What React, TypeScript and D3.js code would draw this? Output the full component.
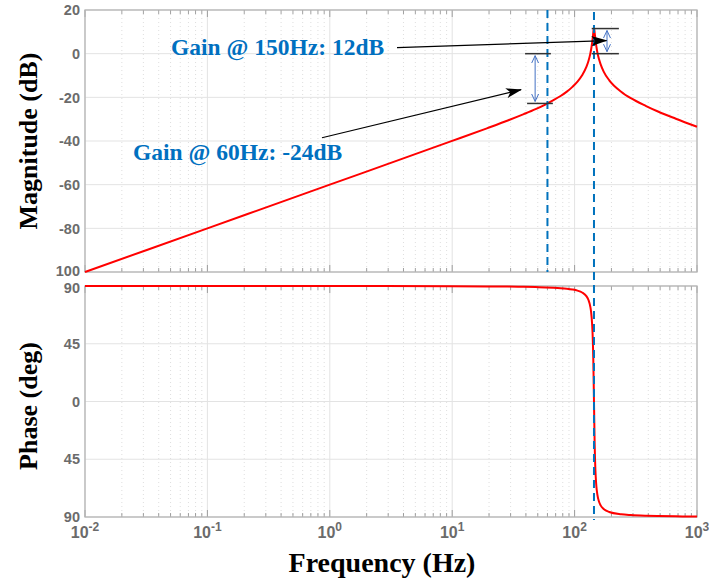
import React from 'react';
import * as d3 from 'd3';

// ---- data ----
const freqHz = [0.01, 0.1, 1, 9.6, 19.2, 28.8, 38.4, 48, 57.6, 67.2, 76.8, 86.4, 96,
  105.6, 115.2, 124.8, 129.6, 134.4, 136.3, 139.2, 140.2, 142.1, 143, 144, 145, 145.9,
  147.8, 148.8, 150.7, 153.6, 158.4, 163.2, 172.8, 192, 240, 288, 384, 480, 672, 1000];
const magDb = [-100, -80, -60, -40.3, -34.2, -30.5, -27.7, -25.4, -23.3, -21.3, -19.4,
  -17.4, -15.2, -12.8, -9.9, -6.1, -3.5, 0.0, 1.8, 5.2, 6.6, 9.5, 11.0, 11.5, 11.0, 9.5,
  6.8, 5.4, 3.2, 0.5, -2.6, -4.9, -8.2, -12.2, -17.4, -20.4, -24.0, -26.5, -29.8, -33.5];
const phaseDeg = [90, 90, 90, 89.85, 89.69, 89.52, 89.34, 89.14, 88.91, 88.63, 88.29,
  87.85, 87.25, 86.37, 84.92, 82.07, 79.27, 73.85, 69.96, 59.5, 53.5, 33.9, 18.5, 0,
  -18.4, -33.5, -52.8, -58.6, -66.3, -72.8, -78.17, -80.94, -83.77, -86.08, -87.85,
  -88.47, -89.0, -89.24, -89.49, -89.65];

const xDecades = [-2, -1, 0, 1, 2, 3];
const magTicks = [20, 0, -20, -40, -60, -80, -100];
const magTickLabels = ['20', '0', '-20', '-40', '-60', '-80', '100'];
const phaseTicks = [90, 45, 0, -45, -90];
const phaseTickLabels = ['90', '45', '0', '45', '90'];

const markerFreqs = [60, 144];
const annoText150 = 'Gain @ 150Hz: 12dB';
const annoText60 = 'Gain @ 60Hz: -24dB';

export default function App() {
  const W = 709, H = 581;
  const x = d3.scaleLog().domain([0.01, 1000]).range([85, 697]);
  const yM = d3.scaleLinear().domain([-100, 20]).range([272, 10]);
  const yP = d3.scaleLinear().domain([-90, 90]).range([517, 286]);

  const pts = freqHz.map((f, i) => ({ f, m: magDb[i], p: phaseDeg[i] }));
  const magLine = d3.line<any>().x(d => x(d.f)).y(d => yM(d.m)).curve(d3.curveMonotoneX)(pts) || '';
  const phLine = d3.line<any>().x(d => x(d.f)).y(d => yP(d.p)).curve(d3.curveMonotoneX)(pts) || '';

  const minors: number[] = [];
  for (let d = -2; d < 3; d++) for (let k = 2; k <= 9; k++) minors.push(k * Math.pow(10, d));

  const tickFont = "'Liberation Sans', Arial, Helvetica, sans-serif";
  const serif = "'Liberation Serif', 'Times New Roman', serif";
  const tickCol = '#6b6b6b';
  const gridMajor = '#e3e3e3';
  const gridMinor = '#d6d6d6';
  const boxCol = '#b5b5b5';

  const panel = (y0: number, y1: number, yTicks: number[], yScale: any, labels: string[], key: string,
    labelNudge: (i: number) => number) => (
    <g key={key}>
      {minors.map((f, i) => (
        <line key={'mn' + i} x1={x(f)} x2={x(f)} y1={y0} y2={y1} stroke={gridMinor} strokeWidth={0.8} strokeDasharray="1,3" />
      ))}
      {xDecades.map((d, i) => (
        <line key={'mj' + i} x1={x(Math.pow(10, d))} x2={x(Math.pow(10, d))} y1={y0} y2={y1} stroke={gridMajor} strokeWidth={1} />
      ))}
      {yTicks.map((t, i) => (
        <line key={'hy' + i} x1={85} x2={697} y1={yScale(t)} y2={yScale(t)} stroke={gridMajor} strokeWidth={1} />
      ))}
      {minors.map((f, i) => (
        <g key={'mt' + i}>
          <line x1={x(f)} x2={x(f)} y1={y1} y2={y1 - 4} stroke="#8a8a8a" strokeWidth={0.8} />
          <line x1={x(f)} x2={x(f)} y1={y0} y2={y0 + 4} stroke="#8a8a8a" strokeWidth={0.8} />
        </g>
      ))}
      {xDecades.map((d, i) => (
        <g key={'Mt' + i}>
          <line x1={x(Math.pow(10, d))} x2={x(Math.pow(10, d))} y1={y1} y2={y1 - 7} stroke="#8a8a8a" strokeWidth={0.8} />
          <line x1={x(Math.pow(10, d))} x2={x(Math.pow(10, d))} y1={y0} y2={y0 + 7} stroke="#8a8a8a" strokeWidth={0.8} />
        </g>
      ))}
      {yTicks.map((t, i) => (
        <text key={'yl' + i} x={80} y={yScale(t) + labelNudge(i)} dy="0.36em" textAnchor="end" fontFamily={tickFont}
          fontWeight="bold" fontSize={14.5} fill={tickCol}>{labels[i]}</text>
      ))}
      <rect x={85} y={y0} width={612} height={y1 - y0} fill="none" stroke={boxCol} strokeWidth={1.3} />
    </g>
  );

  // annotation geometry (data coordinates)
  const br60 = { f1: 39.4, f2: 64, fa: 47.6, top: 0, bot: -22.8 };
  const br150 = { f1: 138, f2: 230, fa: 184, top: 11.5, bot: 0 };
  const arr150 = { fs: 3.54, ms: 2.75, fe: 182, me: 6.0 };
  const arr60 = { fs: 0.863, ms: -38.5, fe: 36.5, me: -16.5 };

  return (
    <svg width={W} height={H} style={{ position: 'absolute', left: 0, top: 0, background: '#fff' }}>
      <defs>
        <marker id="blk" viewBox="0 0 16 10" refX="15" refY="5" markerWidth="16" markerHeight="10"
          markerUnits="userSpaceOnUse" orient="auto">
          <path d="M0,0 L16,5 L0,10 L4,5 Z" fill="#000" />
        </marker>
        <marker id="bluA" viewBox="0 0 8 8" refX="7.5" refY="4" markerWidth="8" markerHeight="8"
          markerUnits="userSpaceOnUse" orient="auto-start-reverse">
          <path d="M0,0.5 L7.5,4 L0,7.5" fill="none" stroke="#4472C4" strokeWidth={1} />
        </marker>
      </defs>
      <rect width={W} height={H} fill="#fff" />
      {panel(10, 272, magTicks, yM, magTickLabels, 'mag', i => (i === magTicks.length - 1 ? -1 : 0))}
      {panel(286, 517, phaseTicks, yP, phaseTickLabels, 'ph', i => (i === 0 ? 2 : 0))}

      {/* curves */}
      <path d={magLine} fill="none" stroke="#ff0000" strokeWidth={2} />
      <path d={phLine} fill="none" stroke="#ff0000" strokeWidth={2} />

      {/* dashed frequency markers */}
      <line x1={x(markerFreqs[0])} x2={x(markerFreqs[0])} y1={10} y2={272} stroke="#0072BD" strokeWidth={2} strokeDasharray="8,5" />
      <line x1={x(markerFreqs[1])} x2={x(markerFreqs[1])} y1={12} y2={520} stroke="#0072BD" strokeWidth={2} strokeDasharray="8,5" />

      {/* brackets */}
      <line x1={x(br60.f1)} x2={x(br60.f2)} y1={yM(br60.top)} y2={yM(br60.top)} stroke="#333" strokeWidth={1.5} />
      <line x1={x(br60.f1) + 2} x2={x(br60.f2) + 2} y1={yM(br60.bot)} y2={yM(br60.bot)} stroke="#333" strokeWidth={1.5} />
      <line x1={x(br60.fa)} x2={x(br60.fa)} y1={yM(br60.top) + 2} y2={yM(br60.bot) - 2} stroke="#4472C4" strokeWidth={1}
        markerStart="url(#bluA)" markerEnd="url(#bluA)" />
      <line x1={x(br150.f1)} x2={x(br150.f2)} y1={yM(br150.top)} y2={yM(br150.top)} stroke="#333" strokeWidth={1.5} />
      <line x1={x(br150.f1)} x2={x(br150.f2)} y1={yM(br150.bot)} y2={yM(br150.bot)} stroke="#333" strokeWidth={1.5} />
      <line x1={x(br150.fa)} x2={x(br150.fa)} y1={yM(br150.top) + 2} y2={yM(br150.bot) - 2} stroke="#4472C4" strokeWidth={1}
        markerStart="url(#bluA)" markerEnd="url(#bluA)" />

      {/* arrows */}
      <line x1={x(arr150.fs)} y1={yM(arr150.ms)} x2={x(arr150.fe)} y2={yM(arr150.me)} stroke="#000" strokeWidth={1.2} markerEnd="url(#blk)" />
      <line x1={x(arr60.fs)} y1={yM(arr60.ms)} x2={x(arr60.fe)} y2={yM(arr60.me)} stroke="#000" strokeWidth={1.2} markerEnd="url(#blk)" />

      {/* annotation texts */}
      <text x={171} y={55} fontFamily={serif} fontWeight="bold" fontSize={23.5} fill="#0070C0">{annoText150}</text>
      <text x={133} y={160} fontFamily={serif} fontWeight="bold" fontSize={23.5} fill="#0070C0">{annoText60}</text>

      {/* x tick labels */}
      {xDecades.map((d, i) => (
        <text key={'xl' + i} x={x(Math.pow(10, d))} y={538} textAnchor="middle" fontFamily={tickFont}
          fontWeight="bold" fontSize={16} fill={tickCol}>
          10<tspan dy={-7} fontSize={12}>{String(d)}</tspan>
        </text>
      ))}

      {/* axis titles */}
      <text transform="translate(37,141) rotate(-90)" textAnchor="middle" fontFamily={serif} fontWeight="bold" fontSize={26} fill="#000">Magnitude (dB)</text>
      <text transform="translate(37,406) rotate(-90)" textAnchor="middle" fontFamily={serif} fontWeight="bold" fontSize={26} fill="#000">Phase (deg)</text>
      <text x={382} y={572} textAnchor="middle" fontFamily={serif} fontWeight="bold" fontSize={28} fill="#000">Frequency (Hz)</text>
    </svg>
  );
}
